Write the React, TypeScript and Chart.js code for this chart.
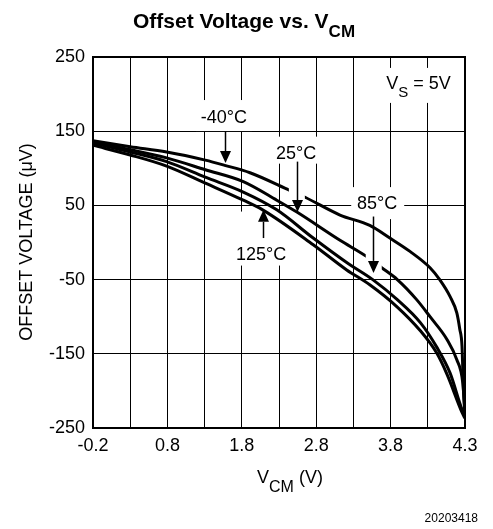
import React, { useEffect, useRef } from "react";
import { Chart, registerables } from "chart.js";

Chart.register(...registerables);

// ---------- data ----------
const X_GRID = [-0.2, 0.3, 0.8, 1.3, 1.8, 2.3, 2.8, 3.3, 3.8, 4.3, 4.8];
const X_TICK_LABELS = ["-0.2", "", "0.8", "", "1.8", "", "2.8", "", "3.8", "", "4.3"];
const Y_TICKS = [-250, -150, -50, 50, 150, 250];

const VCM_M40 = [-0.2, 0.3, 0.79, 1.31, 1.57, 1.91, 2.45, 2.65, 3.12, 3.52, 3.79, 4.06, 4.33, 4.46, 4.6, 4.69, 4.73, 4.76, 4.77, 4.78, 4.8];
const VOS_M40 = [137, 129, 122, 111, 104, 94, 70, 61, 37, 23, 6, -12, -34, -50, -73, -95, -117, -140, -170, -200, -232];

const VCM_25 = [-0.2, 0.3, 0.79, 1.31, 1.82, 2.27, 2.54, 3.12, 3.48, 3.68, 3.89, 4.15, 4.33, 4.56, 4.69, 4.77, 4.8];
const VOS_25 = [135, 125, 114, 98, 82, 57, 41, 3, -19, -34, -50, -77, -100, -131, -158, -189, -230];

const VCM_85 = [-0.2, 0.3, 0.79, 1.31, 1.82, 2.27, 2.76, 3.21, 3.56, 3.89, 4.2, 4.42, 4.6, 4.76, 4.8];
const VOS_85 = [134, 122, 109, 88, 68, 44, 6, -27, -50, -77, -108, -141, -176, -225, -233];

const VCM_125 = [-0.2, 0.3, 0.79, 1.31, 1.82, 2.08, 2.76, 3.21, 3.52, 3.89, 4.2, 4.42, 4.56, 4.76, 4.8];
const VOS_125 = [131, 118, 103, 80, 57, 44, -3, -37, -57, -87, -119, -149, -178, -229, -237];

const LABEL_TEXTS = ["-40°C", "25°C", "85°C", "125°C"];
const LABEL_X = [1.56, 2.53, 3.62, 2.06];
const LABEL_Y = [161, 113, 45, -23];
const ARROW_X = [1.57, 2.54, 3.56, 2.08];
const ARROW_FROM = [150, 109, 35, 6];
const ARROW_TO = [107, 41, -41, 44];

const VS_X = 3.74;
const VS_Y = 207;

// ---------- styles ----------
const FONT = "'Liberation Sans', Arial, Helvetica, sans-serif";
// white boxes behind labels: [dxLeft, dxRight, dyTop, dyBottom] relative to (center, baseline)
const LABEL_BOX = [
  [-28, 28, -23, 8],
  [-25, 25, -22, 5],
  [-26, 27, -22, 10],
  [-29, 29, -48, 6],
];
// white gaps cut into curves just above arrow heads: [dxL, dxR, dyTop, dyBottom] relative to tip, or null
const ARROW_GAP: (number[] | null)[] = [null, [-8, 8, -29, -9], [-7, 9, -25, -2], null];
const VS_BOX = [-4, 72, -21, 14];

type Part = { t: string; size: number; bold?: boolean; dy?: number };

function richWidth(ctx: CanvasRenderingContext2D, parts: Part[]) {
  let w = 0;
  for (const p of parts) {
    ctx.font = `${p.bold ? "bold " : ""}${p.size}px ${FONT}`;
    w += ctx.measureText(p.t).width;
  }
  return w;
}

function drawRich(ctx: CanvasRenderingContext2D, parts: Part[], x: number, y: number, align: "left" | "center") {
  const w = richWidth(ctx, parts);
  let cx = align === "center" ? x - w / 2 : x;
  ctx.textAlign = "left";
  ctx.textBaseline = "alphabetic";
  for (const p of parts) {
    ctx.font = `${p.bold ? "bold " : ""}${p.size}px ${FONT}`;
    ctx.fillText(p.t, cx, y + (p.dy || 0));
    cx += ctx.measureText(p.t).width;
  }
}

const overlayPlugin = {
  id: "overlay",
  beforeDatasetsDraw(chart: any) {
    const ctx: CanvasRenderingContext2D = chart.ctx;
    const xs = chart.scales.x;
    const ys = chart.scales.y;
    ctx.save();
    ctx.fillStyle = "#fff";
    LABEL_TEXTS.forEach((_, i) => {
      const px = xs.getPixelForValue(LABEL_X[i]);
      const py = ys.getPixelForValue(LABEL_Y[i]);
      const b = LABEL_BOX[i];
      ctx.fillRect(px + b[0], py + b[2], b[1] - b[0], b[3] - b[2]);
    });
    const vx = xs.getPixelForValue(VS_X);
    const vy = ys.getPixelForValue(VS_Y);
    ctx.fillRect(vx + VS_BOX[0], vy + VS_BOX[2], VS_BOX[1] - VS_BOX[0], VS_BOX[3] - VS_BOX[2]);
    ctx.restore();
  },
  afterDatasetsDraw(chart: any) {
    const ctx: CanvasRenderingContext2D = chart.ctx;
    const xs = chart.scales.x;
    const ys = chart.scales.y;
    const area = chart.chartArea;
    ctx.save();
    // gaps
    ctx.fillStyle = "#fff";
    LABEL_TEXTS.forEach((_, i) => {
      const g = ARROW_GAP[i];
      if (!g) return;
      const ax = xs.getPixelForValue(ARROW_X[i]);
      const ty = ys.getPixelForValue(ARROW_TO[i]);
      ctx.fillRect(ax + g[0], ty + g[2], g[1] - g[0], g[3] - g[2]);
    });
    // frame
    ctx.strokeStyle = "#000";
    ctx.lineWidth = 2;
    ctx.strokeRect(area.left, area.top, area.right - area.left, area.bottom - area.top);
    // arrows
    ctx.fillStyle = "#000";
    LABEL_TEXTS.forEach((_, i) => {
      const ax = Math.round(xs.getPixelForValue(ARROW_X[i])) + 0.5;
      const fy = ys.getPixelForValue(ARROW_FROM[i]);
      const ty = ys.getPixelForValue(ARROW_TO[i]);
      const dir = ty > fy ? 1 : -1;
      const headLen = 12;
      const headHalf = 5.5;
      ctx.lineWidth = 1.5;
      ctx.beginPath();
      ctx.moveTo(ax, fy);
      ctx.lineTo(ax, ty - dir * headLen);
      ctx.stroke();
      ctx.beginPath();
      ctx.moveTo(ax, ty);
      ctx.lineTo(ax - headHalf, ty - dir * headLen);
      ctx.lineTo(ax + headHalf, ty - dir * headLen);
      ctx.closePath();
      ctx.fill();
    });
    // labels
    ctx.textAlign = "center";
    ctx.textBaseline = "alphabetic";
    ctx.font = `18px ${FONT}`;
    LABEL_TEXTS.forEach((t, i) => {
      ctx.fillText(t, xs.getPixelForValue(LABEL_X[i]), ys.getPixelForValue(LABEL_Y[i]));
    });
    drawRich(
      ctx,
      [
        { t: "V", size: 18 },
        { t: "S", size: 15, dy: 8 },
        { t: " = 5V", size: 18 },
      ],
      xs.getPixelForValue(VS_X),
      ys.getPixelForValue(VS_Y),
      "left"
    );
    ctx.restore();
  },
  afterDraw(chart: any) {
    const ctx: CanvasRenderingContext2D = chart.ctx;
    ctx.save();
    ctx.fillStyle = "#000";
    // title
    drawRich(
      ctx,
      [
        { t: "Offset Voltage vs. V", size: 21, bold: true },
        { t: "CM", size: 17, bold: true, dy: 9 },
      ],
      244,
      28,
      "center"
    );
    // x title
    drawRich(
      ctx,
      [
        { t: "V", size: 18 },
        { t: "CM", size: 16, dy: 9 },
        { t: " (V)", size: 18 },
      ],
      290,
      483,
      "center"
    );
    // y title
    ctx.save();
    ctx.translate(32, 242);
    ctx.rotate(-Math.PI / 2);
    ctx.textAlign = "center";
    ctx.textBaseline = "alphabetic";
    ctx.font = `18px ${FONT}`;
    ctx.fillText("OFFSET VOLTAGE (\u03BCV)", 0, 0);
    ctx.restore();
    // figure number
    ctx.textAlign = "right";
    ctx.font = `12px ${FONT}`;
    ctx.fillText("20203418", 478, 522);
    ctx.restore();
  },
};

function series(xv: number[], yv: number[]) {
  return xv.map((x, i) => ({ x, y: yv[i] }));
}

export default function App() {
  const ref = useRef<HTMLCanvasElement | null>(null);

  useEffect(() => {
    if (!ref.current) return;
    const lineStyle = {
      borderColor: "#000",
      borderWidth: 3,
      pointRadius: 0,
      fill: false,
      cubicInterpolationMode: "monotone" as const,
    };
    const chart = new Chart(ref.current, {
      type: "line",
      data: {
        datasets: [
          { label: "-40°C", data: series(VCM_M40, VOS_M40), ...lineStyle },
          { label: "25°C", data: series(VCM_25, VOS_25), ...lineStyle },
          { label: "85°C", data: series(VCM_85, VOS_85), ...lineStyle },
          { label: "125°C", data: series(VCM_125, VOS_125), ...lineStyle },
        ],
      },
      options: {
        responsive: false,
        animation: false,
        devicePixelRatio: 1,
        layout: { padding: { top: 57, right: 28, bottom: 0, left: 0 } },
        plugins: {
          legend: { display: false },
          tooltip: { enabled: false },
          title: { display: false },
        },
        scales: {
          x: {
            type: "linear",
            min: -0.2,
            max: 4.8,
            afterBuildTicks: (s: any) => {
              s.ticks = X_GRID.map((v) => ({ value: v }));
            },
            afterFit: (s: any) => {
              s.height = 101;
            },
            grid: { color: "#000", lineWidth: 1, drawTicks: false },
            border: { display: false },
            ticks: {
              color: "#000",
              font: { family: FONT, size: 18 },
              padding: 7,
              maxRotation: 0,
              autoSkip: false,
              callback: (_v: any, i: number) => X_TICK_LABELS[i],
            },
          },
          y: {
            type: "linear",
            min: -250,
            max: 250,
            afterBuildTicks: (s: any) => {
              s.ticks = Y_TICKS.map((v) => ({ value: v }));
            },
            afterFit: (s: any) => {
              s.width = 93;
            },
            grid: { color: "#000", lineWidth: 1, drawTicks: false },
            border: { display: false },
            ticks: {
              color: "#000",
              font: { family: FONT, size: 18 },
              padding: 8,
              autoSkip: false,
              callback: (v: any) => String(v),
            },
          },
        },
      },
      plugins: [overlayPlugin],
    });
    return () => chart.destroy();
  }, []);

  return (
    <div style={{ position: "absolute", left: 0, top: 0, width: 493, height: 529, background: "#fff" }}>
      <canvas ref={ref} width={493} height={529} style={{ display: "block" }} />
    </div>
  );
}
